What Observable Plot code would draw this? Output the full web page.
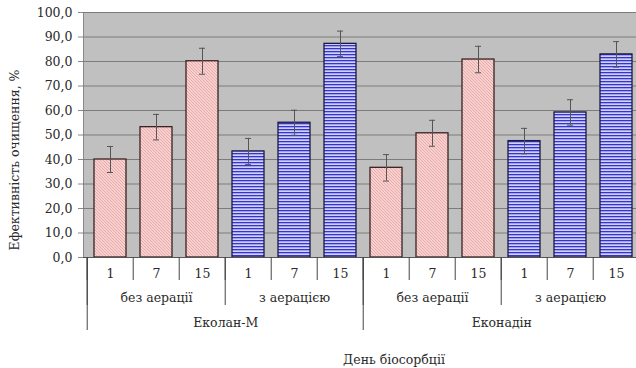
<!DOCTYPE html>
<html>
<head>
<meta charset="utf-8">
<script src="https://cdn.jsdelivr.net/npm/d3@7"></script>
<script src="https://cdn.jsdelivr.net/npm/@observablehq/plot@0.6"></script>
<style>
  html, body { margin: 0; padding: 0; background: #fff; }
</style>
</head>
<body>
<div id="chart"></div>
<script>
const products = ["Еколан-М", "Еконадін"];
const modes = ["без аерації", "з аерацією"];
const days = ["1", "7", "15"];
const values = [40.0, 53.2, 80.1, 43.3, 55.0, 87.2, 36.6, 50.7, 80.8, 47.5, 59.2, 82.9];
const errors = [5.3, 5.2, 5.3, 5.3, 5.1, 5.2, 5.4, 5.3, 5.4, 5.2, 5.2, 5.2];
const yTicks = [0, 10, 20, 30, 40, 50, 60, 70, 80, 90, 100];
const yLabel = "Ефективність очищення, %";
const xTitle = "День біосорбції";

const rows = [];
let k = 0;
products.forEach((p, pi) => modes.forEach((m, mi) => days.forEach((d, di) => {
  rows.push({key: `${p}|${m}|${d}`, product: p, mode: m, mi, di, first: mi === 0 && di === 0,
             day: d, v: values[k], e: errors[k]});
  k++;
})));

const W = 636, H = 368, mL = 83, mR = -6, mT = 12, mB = 111;
const step = (W - mL - mR) / rows.length;
const pxPerUnit = (H - mT - mB) / 100;
const depth = px => -px / pxPerUnit;
const FONT = "'DejaVu Serif', serif";
const FS = 12.5;
const txt = {fill: "#2a2a2a", fontSize: FS, lineAnchor: "middle", frameAnchor: "bottom", fontFamily: FONT};

const chart = Plot.plot({
  width: W, height: H,
  marginLeft: mL, marginRight: mR, marginTop: mT, marginBottom: mB,
  style: {fontSize: FS + "px", fontFamily: FONT, background: "#fff", color: "#2a2a2a", overflow: "visible"},
  x: {type: "band", domain: rows.map(d => d.key), paddingInner: 0.31, paddingOuter: 0.155, axis: null},
  y: {domain: [0, 100], ticks: yTicks, tickFormat: d => d.toFixed(1).replace(".", ","), tickSize: 5, tickPadding: 6, label: null},
  marks: [
    Plot.frame({fill: "#c0c0c0", stroke: "#8a8a8a"}),
    Plot.ruleY(yTicks, {stroke: "#7c7c7c", strokeWidth: 1}),
    Plot.barY(rows.filter(d => d.mi === 0), {x: "key", y: "v", fill: "url(#pinkHatch)", stroke: "#3a2222", strokeWidth: 1.3}),
    Plot.barY(rows.filter(d => d.mi === 1), {x: "key", y: "v", fill: "url(#blueStripes)", stroke: "#1a1a40", strokeWidth: 1.3}),
    Plot.ruleX(rows, {x: "key", y1: d => d.v - d.e, y2: d => d.v + d.e, stroke: "#555", strokeWidth: 1}),
    Plot.tickY(rows, {x: "key", y: d => d.v + d.e, insetLeft: 13, insetRight: 13, stroke: "#555", strokeWidth: 1}),
    Plot.tickY(rows, {x: "key", y: d => d.v - d.e, insetLeft: 13, insetRight: 13, stroke: "#555", strokeWidth: 1}),
    Plot.ruleY([0], {stroke: "#555", strokeWidth: 1}),
    // category separators
    Plot.ruleX(rows, {x: "key", dx: -step / 2, y1: 0, y2: depth(23), stroke: "#444", strokeWidth: 1}),
    Plot.ruleX(rows.filter(d => d.di === 0), {x: "key", dx: -step / 2, y1: 0, y2: depth(48), stroke: "#444", strokeWidth: 1}),
    Plot.ruleX(rows.filter(d => d.first), {x: "key", dx: -step / 2, y1: 0, y2: depth(73), stroke: "#444", strokeWidth: 1}),
    // labels
    Plot.text(rows, {x: "key", text: "day", dy: 16, ...txt}),
    Plot.text(rows.filter(d => d.di === 1), {x: "key", text: "mode", dy: 40, ...txt}),
    Plot.text(rows.filter(d => d.mi === 0 && d.di === 2), {x: "key", text: "product", dx: step / 2, dy: 65, ...txt}),
    Plot.text([xTitle], {text: d => d, dx: 31, dy: 102, ...txt}),
    Plot.text([yLabel], {text: d => d, ...txt, frameAnchor: "left", textAnchor: "middle", dx: -69, dy: 25, rotate: -90})
  ]
});

const ns = "http://www.w3.org/2000/svg";
const defs = document.createElementNS(ns, "defs");
defs.innerHTML = `
  <pattern id="pinkHatch" patternUnits="userSpaceOnUse" width="3" height="3">
    <rect width="3" height="3" fill="#f7d0d0"/>
    <path d="M0,0 L3,3 M-1,2 L1,4 M2,-1 L4,1" stroke="#e29a9a" stroke-width="0.7"/>
  </pattern>
  <pattern id="blueStripes" patternUnits="userSpaceOnUse" width="4" height="3">
    <rect width="4" height="3" fill="#d0d0ff"/>
    <rect width="4" height="1.3" fill="#3535c8"/>
  </pattern>`;
chart.insertBefore(defs, chart.firstChild);
chart.querySelectorAll("[aria-label='y-axis tick'] path, [aria-label='y-axis'] path").forEach(p => p.setAttribute("stroke", "#888"));
chart.querySelectorAll("text, g").forEach(t => t.style.fontFamily = FONT);
chart.style.fontFamily = FONT;
document.getElementById("chart").appendChild(chart);
</script>
</body>
</html>
